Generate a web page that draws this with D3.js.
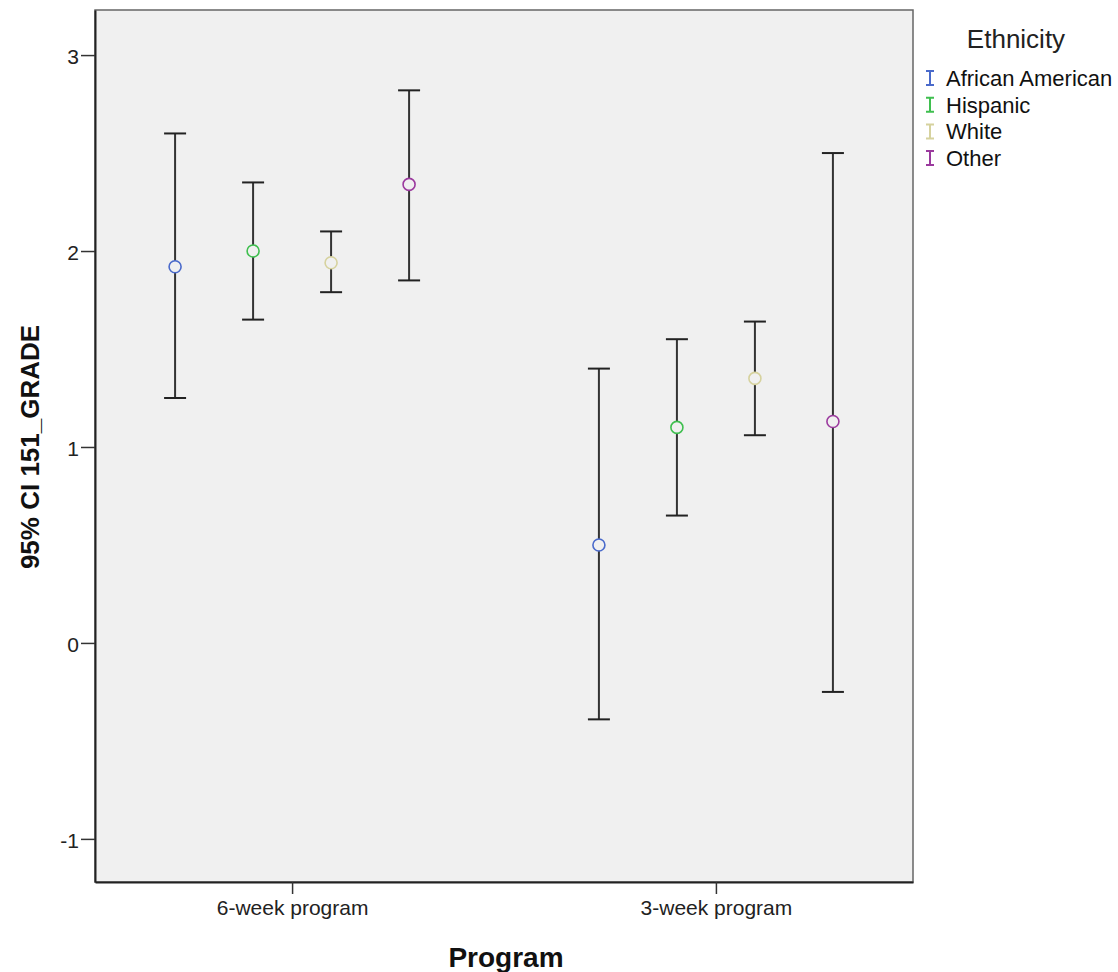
<!DOCTYPE html>
<html>
<head>
<meta charset="utf-8">
<script src="https://cdn.jsdelivr.net/npm/d3@7"></script>
<style>
  body { margin: 0; background: #fff; }
  text { font-family: "Liberation Sans", Arial, sans-serif; }
</style>
</head>
<body>
<script>
// Error bar chart: 95% CI of 151_GRADE by program and ethnicity

var width = 1118;
var height = 972;

var programs = ["6-week program", "3-week program"];
var ethnicities = ["African American", "Hispanic", "White", "Other"];
var colors = ["#4a6acb", "#3fbf4f", "#d6d29e", "#9b3a9e"];
var yTicks = [-1, 0, 1, 2, 3];

// one array per program, in ethnicity order
var mean6 = [1.92, 2.00, 1.94, 2.34];
var lower6 = [1.25, 1.65, 1.79, 1.85];
var upper6 = [2.60, 2.35, 2.10, 2.82];
var mean3 = [0.50, 1.10, 1.35, 1.13];
var lower3 = [-0.39, 0.65, 1.06, -0.25];
var upper3 = [1.40, 1.55, 1.64, 2.50];

var plotLeft = 95, plotRight = 913, plotTop = 10, plotBottom = 882;

var xScale = d3.scalePoint()
  .domain(programs)
  .range([plotLeft, plotRight])
  .padding(0.465);

var offset = d3.scalePoint()
  .domain(ethnicities)
  .range([-117, 117]);

var yScale = d3.scaleLinear()
  .domain([-1.22, 3.23])
  .range([plotBottom, plotTop]);

var colorScale = d3.scaleOrdinal()
  .domain(ethnicities)
  .range(colors);

var rows = [];
ethnicities.forEach(function(e, i) {
  rows.push({program: programs[0], eth: e, mean: mean6[i], lo: lower6[i], hi: upper6[i]});
  rows.push({program: programs[1], eth: e, mean: mean3[i], lo: lower3[i], hi: upper3[i]});
});

var svg = d3.select("body")
  .append("svg")
  .attr("width", width)
  .attr("height", height);

// plot background
svg.append("rect")
  .attr("x", plotLeft)
  .attr("y", plotTop)
  .attr("width", plotRight - plotLeft)
  .attr("height", plotBottom - plotTop)
  .attr("fill", "#f0f0f0")
  .attr("stroke", "#666")
  .attr("stroke-width", 1.5);

// y axis
var yAxis = d3.axisLeft(yScale)
  .tickValues(yTicks)
  .tickSize(14)
  .tickSizeOuter(0)
  .tickPadding(2)
  .tickFormat(function(d) { return String(d); });

var gy = svg.append("g")
  .attr("transform", "translate(" + plotLeft + ",0)")
  .call(yAxis);
gy.select(".domain").attr("stroke", "#222").attr("stroke-width", 2);
gy.selectAll(".tick line").attr("stroke", "#333").attr("stroke-width", 1.5);
gy.selectAll(".tick text")
  .attr("font-size", "21px")
  .attr("dy", "0.4em")
  .attr("fill", "#222")
  .attr("font-family", "Liberation Sans, Arial, sans-serif");

// x axis
var xAxis = d3.axisBottom(xScale)
  .tickSize(12)
  .tickSizeOuter(0)
  .tickPadding(6);

var gx = svg.append("g")
  .attr("transform", "translate(0," + plotBottom + ")")
  .call(xAxis);
gx.select(".domain").attr("stroke", "#222").attr("stroke-width", 2);
gx.selectAll(".tick line").attr("stroke", "#333").attr("stroke-width", 1.5);
gx.selectAll(".tick text")
  .attr("font-size", "21px")
  .attr("fill", "#222")
  .attr("font-family", "Liberation Sans, Arial, sans-serif");

// axis titles
svg.append("text")
  .attr("x", 506)
  .attr("y", 967)
  .attr("text-anchor", "middle")
  .attr("font-size", "28px")
  .attr("font-weight", "bold")
  .attr("fill", "#111")
  .text("Program");

svg.append("text")
  .attr("transform", "translate(39,447) rotate(-90)")
  .attr("text-anchor", "middle")
  .attr("font-size", "26px")
  .attr("font-weight", "bold")
  .attr("fill", "#111")
  .text("95% CI 151_GRADE");

// error bars
var cap = 11;
var bars = svg.selectAll(".bar")
  .data(rows)
  .enter()
  .append("g")
  .attr("class", "bar")
  .attr("transform", function(d) {
    return "translate(" + (xScale(d.program) + offset(d.eth)) + ",0)";
  });

bars.append("line")
  .attr("x1", 0).attr("x2", 0)
  .attr("y1", function(d) { return yScale(d.hi); })
  .attr("y2", function(d) { return yScale(d.lo); })
  .attr("stroke", "#333")
  .attr("stroke-width", 2);

bars.append("line")
  .attr("x1", -cap).attr("x2", cap)
  .attr("y1", function(d) { return yScale(d.hi); })
  .attr("y2", function(d) { return yScale(d.hi); })
  .attr("stroke", "#222")
  .attr("stroke-width", 2);

bars.append("line")
  .attr("x1", -cap).attr("x2", cap)
  .attr("y1", function(d) { return yScale(d.lo); })
  .attr("y2", function(d) { return yScale(d.lo); })
  .attr("stroke", "#222")
  .attr("stroke-width", 2);

bars.append("circle")
  .attr("cx", 0)
  .attr("cy", function(d) { return yScale(d.mean); })
  .attr("r", 6)
  .attr("fill", "#f0f0f0")
  .attr("stroke", function(d) { return colorScale(d.eth); })
  .attr("stroke-width", 1.6);

// legend
svg.append("text")
  .attr("x", 1016)
  .attr("y", 48)
  .attr("text-anchor", "middle")
  .attr("font-size", "26px")
  .attr("fill", "#222")
  .text("Ethnicity");

var legend = svg.selectAll(".legend")
  .data(ethnicities)
  .enter()
  .append("g")
  .attr("class", "legend")
  .attr("transform", function(d, i) { return "translate(930," + (78 + i * 26.7) + ")"; });

legend.append("path")
  .attr("d", "M-4,-7H4M0,-7V7M-4,7H4")
  .attr("fill", "none")
  .attr("stroke", function(d) { return colorScale(d); })
  .attr("stroke-width", 2);

legend.append("text")
  .attr("x", 16)
  .attr("y", 8)
  .attr("font-size", "22px")
  .attr("fill", "#111")
  .text(function(d) { return d; });
</script>
</body>
</html>
